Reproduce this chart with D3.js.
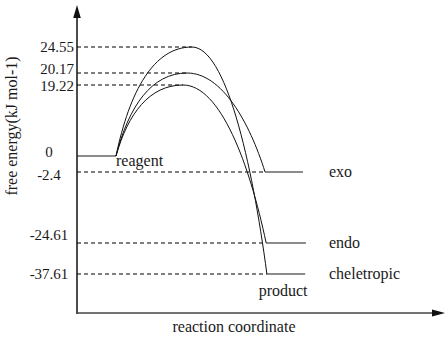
<!DOCTYPE html>
<html>
<head>
<meta charset="utf-8">
<script src="https://cdn.jsdelivr.net/npm/d3@7"></script>
<style>
  html, body { margin: 0; padding: 0; background: #fff; }
  svg { display: block; }
</style>
</head>
<body>
<svg id="chart" width="448" height="340" font-family="'Liberation Serif', 'Times New Roman', Times, 'DejaVu Serif', serif" font-size="16"></svg>
<script>
// ---- data ----
const tickValues = [24.55, 20.17, 19.22, 0, -2.4, -24.61, -37.61];
const tickLabels = ["24.55", "20.17", "19.22", "0", "-2.4", "-24.61", "-37.61"];
const pathways = ["cheletropic", "exo", "endo"];
const tsEnergy = [24.55, 20.17, 19.22];
const productEnergy = [-37.61, -2.4, -24.61];
const tsCoord = [3.12, 2.99, 2.88];
const productStartCoord = [5.16, 5.11, 5.14];
const productEndCoord = [6.2, 6.14, 6.22];
const reagentEnergy = 0;
const reagentCoord = [0, 1.06];
const xTitle = "reaction coordinate";
const yTitle = "free energy(kJ mol-1)";

// ---- scales ----
const svg = d3.select("#chart");
const x = d3.scaleLinear().domain([0, 10]).range([77, 445]);
// schematic (non-proportional) energy axis: piecewise-linear scale
const yDomain = tickValues.slice().sort((a, b) => a - b);
const y = d3.scaleLinear().domain(yDomain).range([274, 243, 172, 156, 85, 73, 47]);
const axisY = 313;
const textColor = "#1a1a1a";

// ---- dashed guide lines ----
const guides = [];
tsEnergy.forEach((e, i) => guides.push({ e, c: tsCoord[i] }));
productEnergy.forEach((e, i) => guides.push({ e, c: productStartCoord[i] }));
svg.append("g").selectAll("line").data(guides).join("line")
  .attr("x1", x(0)).attr("x2", d => x(d.c))
  .attr("y1", d => y(d.e)).attr("y2", d => y(d.e))
  .attr("stroke", "#555").attr("stroke-width", 1.3)
  .attr("stroke-dasharray", "4,3");

// ---- level lines ----
const levelColor = "#666";
svg.append("line")
  .attr("x1", x(reagentCoord[0])).attr("x2", x(reagentCoord[1]))
  .attr("y1", y(reagentEnergy)).attr("y2", y(reagentEnergy))
  .attr("stroke", levelColor).attr("stroke-width", 1.6);
svg.append("g").selectAll("line").data(pathways).join("line")
  .attr("x1", (d, i) => x(productStartCoord[i])).attr("x2", (d, i) => x(productEndCoord[i]))
  .attr("y1", (d, i) => y(productEnergy[i])).attr("y2", (d, i) => y(productEnergy[i]))
  .attr("stroke", levelColor).attr("stroke-width", 1.6);

// ---- reaction curves ----
function curvePath(i) {
  const sx = x(reagentCoord[1]), sy = y(reagentEnergy);
  const px = x(tsCoord[i]), py = y(tsEnergy[i]);
  const ex = x(productStartCoord[i]), ey = y(productEnergy[i]);
  const p = d3.path();
  const dx1 = px - sx, dy1 = py - sy;
  p.moveTo(sx, sy);
  p.bezierCurveTo(sx + 0.18 * dx1, sy + 0.6 * dy1, sx + 0.5 * dx1, py, px, py);
  const dx2 = ex - px, dy2 = ey - py;
  p.bezierCurveTo(px + 0.45 * dx2, py, ex - 0.2 * dx2, ey - 0.5 * dy2, ex, ey);
  return p.toString();
}
svg.append("g").selectAll("path").data(pathways).join("path")
  .attr("d", (d, i) => curvePath(i))
  .attr("fill", "none").attr("stroke", "#111").attr("stroke-width", 1);

// ---- axes with arrows ----
svg.append("line").attr("x1", x(0)).attr("x2", x(0)).attr("y1", axisY + 1).attr("y2", 14)
  .attr("stroke", "#111").attr("stroke-width", 1.5);
svg.append("path")
  .attr("d", `M${x(0)},5 L${x(0) - 3.8},18 L${x(0) + 3.8},18 Z`).attr("fill", "#111");
svg.append("line").attr("x1", x(0)).attr("x2", 436).attr("y1", axisY).attr("y2", axisY)
  .attr("stroke", "#444").attr("stroke-width", 1.6);
svg.append("path")
  .attr("d", `M${x(10)},${axisY} L${x(10) - 13},${axisY - 3.5} L${x(10) - 13},${axisY + 3.5} Z`).attr("fill", "#111");

// ---- tick labels ----
const labelShift = { "0": -4, "-2.4": 3, "-24.61": -8, "20.17": -3.5, "19.22": 1.5 };
svg.append("g").attr("font-size", 15).selectAll("text").data(tickValues).join("text")
  .attr("x", d => d > 0 ? x(0) - 3 : 49)
  .attr("y", (d, i) => y(d) + (labelShift[tickLabels[i]] || 0))
  .attr("dy", "0.33em")
  .attr("fill", textColor)
  .attr("text-anchor", d => d > 0 ? "end" : "middle")
  .text((d, i) => tickLabels[i]);

// ---- state labels ----
svg.append("text").attr("x", x(reagentCoord[1])).attr("y", y(reagentEnergy) + 10)
  .attr("fill", textColor).text("reagent");
svg.append("g").selectAll("text").data(pathways).join("text")
  .attr("x", 329).attr("y", (d, i) => y(productEnergy[i]) + 5)
  .attr("fill", textColor).text(d => d);
svg.append("text").attr("x", x(5.6)).attr("y", 296).attr("text-anchor", "middle")
  .attr("fill", textColor).text("product");

// ---- axis titles ----
svg.append("text").attr("x", 234).attr("y", 332).attr("text-anchor", "middle")
  .attr("fill", textColor).text(xTitle);
svg.append("text").attr("transform", "translate(17,126) rotate(-90)")
  .attr("text-anchor", "middle").attr("fill", textColor).text(yTitle);
</script>
</body>
</html>
